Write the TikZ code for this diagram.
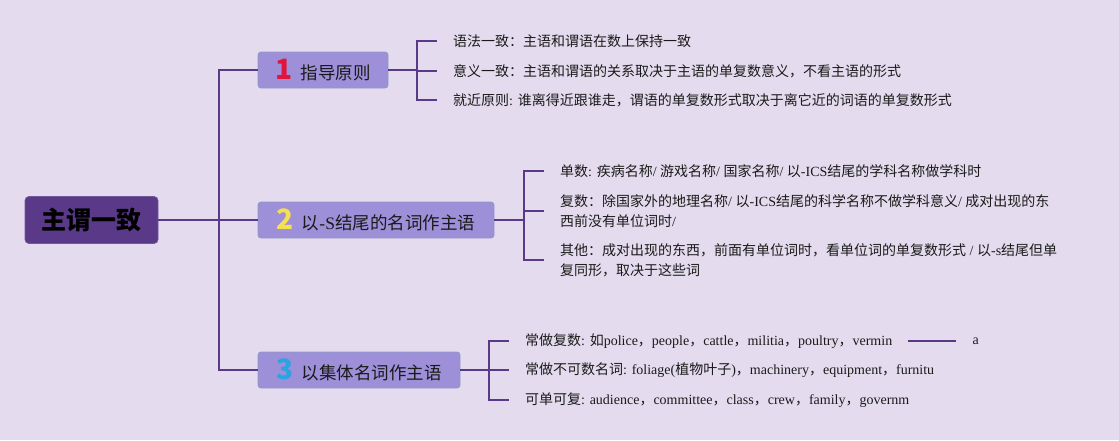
\documentclass[tikz,border=0pt]{standalone}
\usepackage{fontspec}
\setmainfont{Liberation Serif}
\newfontfamily\cjk{Noto Sans CJK SC}
\usepackage{tikz}
\usetikzlibrary{positioning}

\definecolor{bgpurple}{HTML}{E4DCEE}
\definecolor{linepurple}{HTML}{5A3A88}
\definecolor{rootfill}{HTML}{5A3A88}
\definecolor{boxfill}{HTML}{9D8FD8}
\definecolor{boxedge}{HTML}{8C9CC4}
\definecolor{leaftext}{HTML}{1A1A1A}
\definecolor{numred}{HTML}{E0143C}
\definecolor{numyellow}{HTML}{F5E050}
\definecolor{numblue}{HTML}{2AA4E2}

\newcommand{\zh}[1]{{\cjk #1}}
\newcommand{\topicnum}[2]{{\color{#1}\cjk\bfseries\fontsize{28}{28}\selectfont #2}\hspace{8pt}}

\begin{document}
\begin{tikzpicture}[
    x=1pt, y=-1pt,
    branch/.style={draw=linepurple, line width=2pt},
    rootbox/.style={rectangle, rounded corners=4pt, draw=rootfill!85!white, line width=0.8pt, fill=rootfill, minimum width=133pt, minimum height=47pt, text=black, font=\cjk\bfseries\fontsize{25}{28}\selectfont},
    topicbox/.style={rectangle, rounded corners=3pt, draw=boxedge, line width=0.8pt, fill=boxfill, minimum height=36pt, inner xsep=0pt, text=leaftext, font=\fontsize{17.5}{20}\selectfont},
    leaf/.style={anchor=west, inner xsep=16pt, inner ysep=2pt, align=left, text=leaftext, font=\fontsize{14}{20}\selectfont}
]

    % fond et cadre
    \fill[bgpurple] (0,0) rectangle (1119,440);
    \useasboundingbox (0,0) rectangle (1119,440);

    % racine et thèmes
    \node [rootbox] (root) at (91.5,220) {主谓一致};
    \node [topicbox, minimum width=130pt] (t1) at (323,70) {\topicnum{numred}{1}\zh{指导原则}};
    \node [topicbox, minimum width=236pt] (t2) at (376,220) {\topicnum{numyellow}{2}\zh{以}-S\zh{结尾的名词作主语}};
    \node [topicbox, minimum width=202pt] (t3) at (359,370) {\topicnum{numblue}{3}\zh{以集体名词作主语}};

    % feuilles du thème 1
    \node [leaf] (p1) at (437,41) {\zh{语法一致：主语和谓语在数上保持一致}};
    \node [leaf] (p2) at (437,71) {\zh{意义一致：主语和谓语的关系取决于主语的单复数意义，不看主语的形式}};
    \node [leaf] (p3) at (437,100) {\zh{就近原则}: \zh{谁离得近跟谁走，谓语的单复数形式取决于离它近的词语的单复数形式}};

    % feuilles du thème 2
    \node [leaf] (s1) at (544,171) {\zh{单数}: \zh{疾病名称}/ \zh{游戏名称}/ \zh{国家名称}/ \zh{以}-ICS\zh{结尾的学科名称做学科时}};
    \node [leaf] (s2) at (544,211) {\zh{复数：除国家外的地理名称}/ \zh{以}-ICS\zh{结尾的科学名称不做学科意义}/ \zh{成对出现的东}\\\zh{西前没有单位词时}/};
    \node [leaf] (s3) at (544,260) {\zh{其他：成对出现的东西，前面有单位词时，看单位词的单复数形式} / \zh{以}-s\zh{结尾但单}\\\zh{复同形，取决于这些词}};

    % feuilles du thème 3
    \node [leaf] (c1) at (509,341) {\zh{常做复数}: \zh{如}police\zh{，}people\zh{，}cattle\zh{，}militia\zh{，}poultry\zh{，}vermin};
    \node [leaf] (c2) at (509,370) {\zh{常做不可数名词}: foliage(\zh{植物叶子})\zh{，}machinery\zh{，}equipment\zh{，}furnitu};
    \node [leaf] (c3) at (509,400) {\zh{可单可复}: audience\zh{，}committee\zh{，}class\zh{，}crew\zh{，}family\zh{，}governm};
    \node [leaf, right=48pt of c1] (ca) {a};

    % liaisons
    \draw [branch] (root.east) -- ++(61,0) coordinate (trunk);
    \foreach \t in {t1,t2,t3}
        \draw [branch] (trunk) |- (\t.west);

    \draw [branch] (t1.east) -- ++(29,0) coordinate (j1);
    \foreach \p in {p1,p2,p3}
        \draw [branch] (j1) |- (\p.west);

    \draw [branch] (t2.east) -- ++(30,0) coordinate (j2);
    \foreach \p in {s1,s2,s3}
        \draw [branch] (j2) |- (\p.west);

    \draw [branch] (t3.east) -- ++(29,0) coordinate (j3);
    \foreach \p in {c1,c2,c3}
        \draw [branch] (j3) |- (\p.west);

    \draw [branch] (c1.east) -- (ca.west);

\end{tikzpicture}
\end{document}
